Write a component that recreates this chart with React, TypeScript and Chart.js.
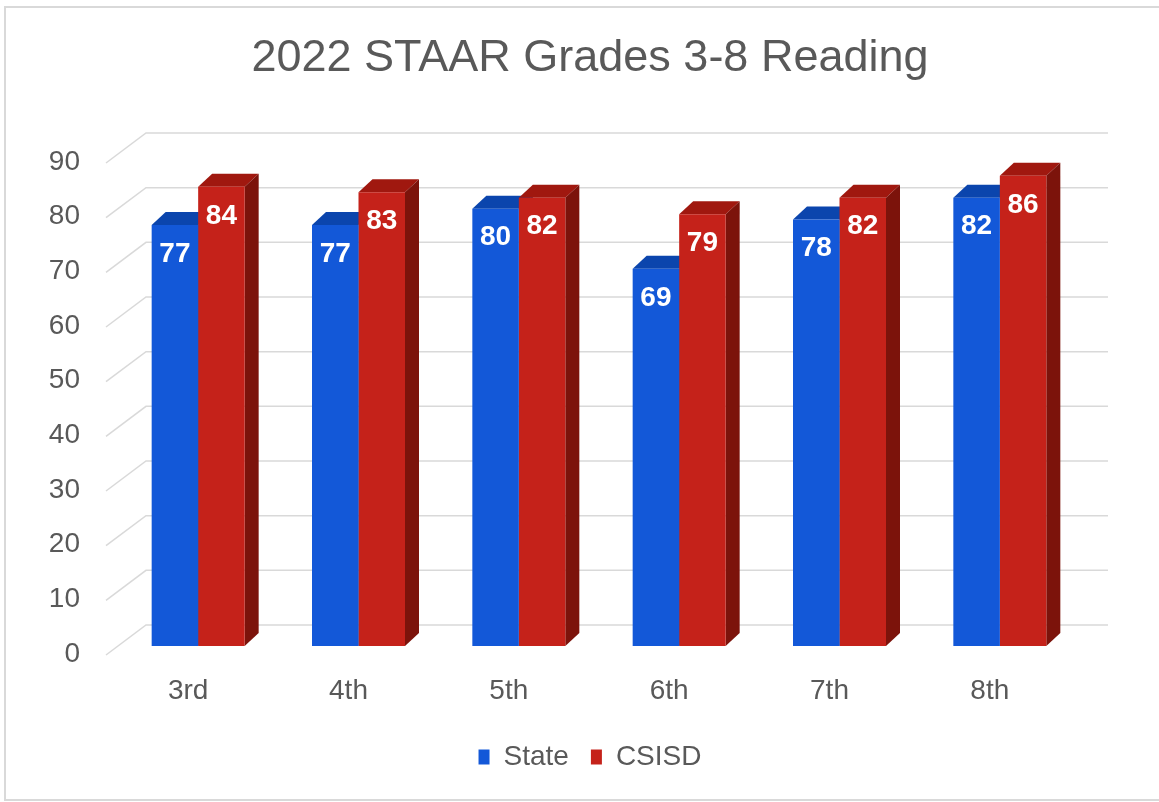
import React, { useEffect, useRef } from 'react';
import { Chart, registerables } from 'chart.js';

Chart.register(...registerables);

const chartTitle = '2022 STAAR Grades 3-8 Reading';
const grades = ['3rd', '4th', '5th', '6th', '7th', '8th'];
const seriesNames = ['State', 'CSISD'];
const stateValues = [77, 77, 80, 69, 78, 82];
const csisdValues = [84, 83, 82, 79, 82, 86];
const yMin = 0;
const yMax = 90;
const yStep = 10;

const frontColors = ['#1358d8', '#c5221a'];
const topColors = ['#0b45ad', '#a0180f'];
const sideColors = ['#0a3b92', '#7c130b'];

const FONT = '"Liberation Sans", Arial, sans-serif';
const TEXT_COLOR = '#595959';
const GRID_COLOR = '#d9d9d9';
const FRONT = { dx: -12, dy: 9 };
const BACK = { dx: 28, dy: -21 };
const DEPTH = { dx: 14, dy: -13 };

const threeDPlugin = {
  id: 'threeD',
  beforeDraw(chart: any) {
    const ctx = chart.ctx;
    ctx.save();
    ctx.fillStyle = '#ffffff';
    ctx.fillRect(0, 0, chart.width, chart.height);
    ctx.strokeStyle = GRID_COLOR;
    ctx.lineWidth = 2;
    ctx.beginPath();
    ctx.moveTo(chart.width + 5, 7);
    ctx.lineTo(5, 7);
    ctx.lineTo(5, 800);
    ctx.lineTo(chart.width + 5, 800);
    ctx.stroke();
    ctx.restore();
  },
  beforeDatasetsDraw(chart: any) {
    const ctx = chart.ctx;
    const { left, right } = chart.chartArea;
    const y = chart.scales.y;
    ctx.save();
    ctx.strokeStyle = GRID_COLOR;
    ctx.lineWidth = 1.5;
    y.ticks.forEach((t: any) => {
      const py = y.getPixelForValue(t.value);
      ctx.beginPath();
      ctx.moveTo(left + FRONT.dx, py + FRONT.dy);
      ctx.lineTo(left + BACK.dx, py + BACK.dy);
      ctx.lineTo(right + BACK.dx, py + BACK.dy);
      ctx.stroke();
    });
    chart.data.datasets.forEach((ds: any, i: number) => {
      const meta = chart.getDatasetMeta(i);
      meta.data.forEach((bar: any) => {
        const { x, y: top, base, width } = bar.getProps(['x', 'y', 'base', 'width'], true);
        const l = x - width / 2;
        const r = x + width / 2;
        ctx.fillStyle = topColors[i];
        ctx.beginPath();
        ctx.moveTo(l, top);
        ctx.lineTo(l + DEPTH.dx, top + DEPTH.dy);
        ctx.lineTo(r + DEPTH.dx, top + DEPTH.dy);
        ctx.lineTo(r, top);
        ctx.closePath();
        ctx.fill();
        ctx.fillStyle = sideColors[i];
        ctx.beginPath();
        ctx.moveTo(r, top);
        ctx.lineTo(r + DEPTH.dx, top + DEPTH.dy);
        ctx.lineTo(r + DEPTH.dx, base + DEPTH.dy);
        ctx.lineTo(r, base);
        ctx.closePath();
        ctx.fill();
      });
    });
    ctx.restore();
  },
  afterDatasetsDraw(chart: any) {
    const ctx = chart.ctx;
    ctx.save();
    ctx.fillStyle = '#ffffff';
    ctx.font = `bold 28px ${FONT}`;
    ctx.textAlign = 'center';
    ctx.textBaseline = 'middle';
    chart.data.datasets.forEach((ds: any, i: number) => {
      const meta = chart.getDatasetMeta(i);
      meta.data.forEach((bar: any, j: number) => {
        const { x, y: top } = bar.getProps(['x', 'y'], true);
        ctx.fillText(String(ds.data[j]), x, top + 29);
      });
    });
    ctx.restore();
  },
};

export default function App() {
  const canvasRef = useRef<HTMLCanvasElement | null>(null);

  useEffect(() => {
    if (!canvasRef.current) return;
    const chart = new Chart(canvasRef.current, {
      type: 'bar',
      data: {
        labels: grades,
        datasets: [
          {
            label: seriesNames[0],
            data: stateValues,
            backgroundColor: frontColors[0],
            borderWidth: 0,
            barPercentage: 1,
            categoryPercentage: 0.58,
          },
          {
            label: seriesNames[1],
            data: csisdValues,
            backgroundColor: frontColors[1],
            borderWidth: 0,
            barPercentage: 1,
            categoryPercentage: 0.58,
          },
        ],
      },
      options: {
        responsive: false,
        animation: false,
        devicePixelRatio: 1,
        layout: { padding: { left: 48, right: 27, top: 0, bottom: 21 } },
        plugins: {
          title: {
            display: true,
            text: chartTitle,
            color: TEXT_COLOR,
            font: { family: FONT, size: 45, weight: 'normal' },
            padding: { top: 32, bottom: 68 },
          },
          legend: {
            position: 'bottom',
            labels: {
              boxWidth: 11,
              boxHeight: 15,
              padding: 22,
              color: TEXT_COLOR,
              font: { family: FONT, size: 28 },
            },
          },
          tooltip: { enabled: false },
        },
        scales: {
          x: {
            grid: { display: false, drawTicks: false },
            border: { display: false },
            ticks: {
              color: TEXT_COLOR,
              font: { family: FONT, size: 28 },
              padding: 28,
              labelOffset: -10,
            },
            afterFit: (scale: any) => {
              scale.height = 75;
            },
          },
          y: {
            min: yMin,
            max: yMax,
            grid: { display: false, drawTicks: false },
            border: { display: false },
            ticks: {
              stepSize: yStep,
              color: TEXT_COLOR,
              font: { family: FONT, size: 28 },
              padding: 38,
              labelOffset: 8,
            },
            afterFit: (scale: any) => {
              scale.width = 70;
            },
          },
          yRight: {
            type: 'linear',
            position: 'right',
            display: true,
            grid: { display: false, drawTicks: false },
            border: { display: false },
            ticks: { display: false },
            afterFit: (scale: any) => {
              scale.width = 52;
            },
          },
        },
      },
      plugins: [threeDPlugin],
    });
    return () => chart.destroy();
  }, []);

  return (
    <div style={{ position: 'absolute', left: 0, top: 0 }}>
      <canvas ref={canvasRef} width={1159} height={802} style={{ display: 'block' }} />
    </div>
  );
}
